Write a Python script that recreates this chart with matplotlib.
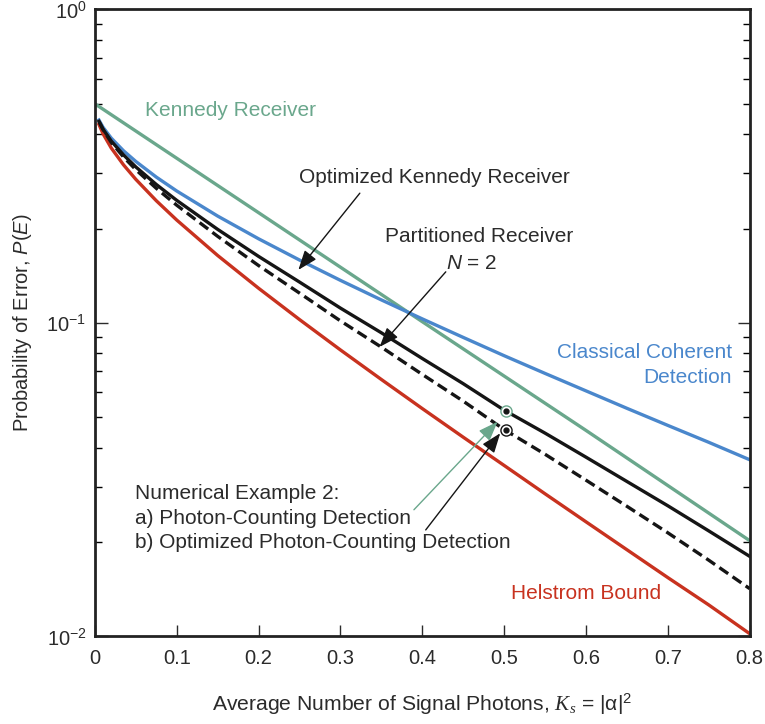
import matplotlib.pyplot as plt
import matplotlib.ticker as mticker

plt.rcParams['font.family'] = ['Liberation Sans', 'DejaVu Sans']
plt.rcParams['mathtext.fontset'] = 'custom'
plt.rcParams['mathtext.rm'] = 'Liberation Sans'
plt.rcParams['mathtext.it'] = 'Liberation Sans:italic'
plt.rcParams['mathtext.cal'] = 'Liberation Serif:italic'

# average number of signal photons
ks = [0.005, 0.01, 0.02, 0.035, 0.05, 0.075, 0.1, 0.15, 0.2, 0.25, 0.3, 0.35,
      0.4, 0.45, 0.5, 0.55, 0.6, 0.65, 0.7, 0.75, 0.8]

ks_kennedy = [0.0, 0.2, 0.4, 0.6, 0.8]
p_kennedy = [0.5, 0.2247, 0.1009, 0.0454, 0.0202]

p_classical = [0.4438, 0.4207, 0.3886, 0.3541, 0.3274, 0.2919, 0.2635, 0.2192,
               0.1855, 0.1587, 0.1367, 0.1184, 0.1030, 0.0899, 0.0786, 0.0690,
               0.0607, 0.0534, 0.0471, 0.0416, 0.0366]

p_opt_kennedy = [0.4396, 0.4148, 0.3803, 0.3435, 0.3145, 0.2765, 0.2460, 0.1988,
                 0.1630, 0.1350, 0.1115, 0.0930, 0.0770, 0.0640, 0.0527, 0.0445,
                 0.0373, 0.0312, 0.0261, 0.0217, 0.0180]

p_partitioned = [0.4390, 0.4136, 0.3765, 0.3383, 0.3082, 0.2688, 0.2374, 0.1889,
                 0.1524, 0.1245, 0.1015, 0.0837, 0.0685, 0.0563, 0.0457, 0.0381,
                 0.0315, 0.0260, 0.0214, 0.0175, 0.0142]

p_helstrom = [0.4296, 0.4010, 0.3614, 0.3193, 0.2871, 0.2454, 0.2129, 0.1641,
              0.1290, 0.1025, 0.0820, 0.0660, 0.0533, 0.0432, 0.0351, 0.0285,
              0.0232, 0.0189, 0.0154, 0.0126, 0.0102]

green = '#6aa78c'
blue = '#4a87cc'
red = '#c8321f'
txt = '#2b2b2b'

fig = plt.figure(figsize=(7.65, 7.24), dpi=100)
ax = fig.add_axes([0.124, 0.121, 0.856, 0.866])

ax.plot(ks_kennedy, p_kennedy, color=green, lw=2.4)
ax.plot(ks, p_classical, color=blue, lw=2.4)
ax.plot(ks, p_helstrom, color=red, lw=2.4)
ax.plot(ks, p_opt_kennedy, color='#151515', lw=2.4)
ax.plot(ks, p_partitioned, color='#151515', lw=2.4, ls=(0, (3.2, 1.6)))

# numerical example 2 points
ax.plot([0.502], [0.0525], 'o', ms=8, mfc='white', mec=green, mew=1.0)
ax.plot([0.502], [0.0525], 'o', ms=3.5, color='#151515')
ax.plot([0.502], [0.0456], 'o', ms=8, mfc='white', mec='#151515', mew=1.0)
ax.plot([0.502], [0.0456], 'o', ms=3.5, color='#151515')

ax.set_yscale('log')
ax.set_xlim(0, 0.8)
ax.set_ylim(0.01, 1)
ax.set_xticks([0, 0.1, 0.2, 0.3, 0.4, 0.5, 0.6, 0.7, 0.8])
ax.set_xticklabels(['0', '0.1', '0.2', '0.3', '0.4', '0.5', '0.6', '0.7', '0.8'])
ax.set_yticks([0.01, 0.1, 1])
ax.set_yticklabels([r'$\mathregular{10^{-2}}$', r'$\mathregular{10^{-1}}$',
                    r'$\mathregular{10^{0}}$'])
ax.yaxis.set_minor_locator(mticker.LogLocator(base=10, subs=range(2, 10)))
ax.yaxis.set_minor_formatter(mticker.NullFormatter())

ax.tick_params(axis='x', which='both', direction='in', top=False, length=8,
               width=1, labelsize=14.5, colors=txt, pad=9)
ax.tick_params(axis='y', which='major', direction='in', left=True, right=True,
               length=9, width=1, labelsize=14.5, colors=txt, pad=6)
ax.tick_params(axis='y', which='minor', direction='in', left=True, right=True,
               length=5, width=1)
for s in ax.spines.values():
    s.set_linewidth(2.0)
    s.set_color('#222222')

ax.set_xlabel(r'Average Number of Signal Photons, $\mathcal{K_s}$ = $|\mathrm{\alpha}|^2$',
              fontsize=15.2, color=txt, labelpad=17)
ax.set_ylabel(r'Probability of Error, $\it{P(E)}$', fontsize=14.5,
              color=txt, labelpad=9)

# curve labels
fs = 15
ax.text(0.061, 0.475, 'Kennedy Receiver', color=green, fontsize=fs, va='center')
ax.text(0.249, 0.290, 'Optimized Kennedy Receiver', color=txt, fontsize=fs,
        va='center')
ax.text(0.355, 0.188, 'Partitioned Receiver', color=txt, fontsize=fs,
        va='center')
ax.text(0.429, 0.155, r'$\it{N}$ = 2', color=txt, fontsize=fs, va='center')
ax.text(0.778, 0.0802, 'Classical Coherent', color=blue, fontsize=fs,
        va='center', ha='right')
ax.text(0.778, 0.0668, 'Detection', color=blue, fontsize=fs, va='center',
        ha='right')
ax.text(0.508, 0.01366, 'Helstrom Bound', color=red, fontsize=fs, va='center')
ax.text(0.049, 0.0285, 'Numerical Example 2:', color=txt, fontsize=fs,
        va='center')
ax.text(0.049, 0.0237, 'a) Photon-Counting Detection', color=txt, fontsize=fs,
        va='center')
ax.text(0.049, 0.01987, 'b) Optimized Photon-Counting Detection', color=txt,
        fontsize=fs, va='center')

# arrows
head = '-|>,head_length=1.2,head_width=0.45'
arrow_black = dict(arrowstyle=head, color='#151515', lw=1.0, shrinkA=0,
                   shrinkB=0)
ax.annotate('', xy=(0.2486, 0.1476), xytext=(0.3237, 0.2593),
            arrowprops=arrow_black)
ax.annotate('', xy=(0.3478, 0.0838), xytext=(0.4287, 0.1455),
            arrowprops=arrow_black)
ax.annotate('', xy=(0.4952, 0.04446), xytext=(0.4042, 0.02186),
            arrowprops=arrow_black)
ax.annotate('', xy=(0.492, 0.0484), xytext=(0.3898, 0.02535),
            arrowprops=dict(arrowstyle=head, color=green, lw=1.0, shrinkA=0,
                            shrinkB=0))

fig.savefig('out.png', dpi=100)
